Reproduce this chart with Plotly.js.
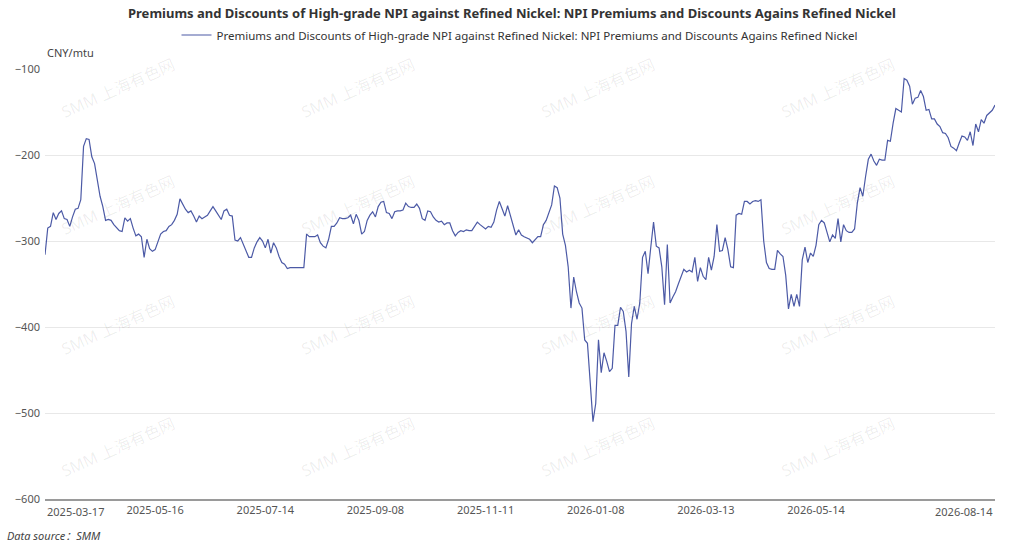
<!DOCTYPE html>
<html>
<head>
<meta charset="utf-8">
<script src="https://cdn.plot.ly/plotly-3.0.1.min.js"></script>
<style>
html,body{margin:0;padding:0;background:#fff;}
#chart{width:1024px;height:542px;}
</style>
</head>
<body>
<div id="chart"></div>
<script>
// ---- data ----
const seriesName = "Premiums and Discounts of High-grade NPI against Refined Nickel: NPI Premiums and Discounts Agains Refined Nickel";
const chartTitle = "Premiums and Discounts of High-grade NPI against Refined Nickel: NPI Premiums and Discounts Agains Refined Nickel";
const unitLabel = "CNY/mtu";
const sourceLabel = "Data source：SMM";
const watermarkText = "SMM 上海有色网";

const startDate = "2025-03-17";
const endDate = "2026-08-14";
const holidays = [
  "2025-04-04","2025-05-01","2025-05-02","2025-05-05","2025-06-02",
  "2025-10-01","2025-10-02","2025-10-03","2025-10-06","2025-10-07","2025-10-08",
  "2026-01-01","2026-01-02","2026-02-16","2026-02-17","2026-02-18","2026-02-19",
  "2026-02-20","2026-02-23","2026-04-06","2026-05-01","2026-05-04","2026-05-05","2026-06-19"
];

const values = [
  -316,-285,-283,-267,-275,-268,-265,-274,-275,-283,
  -272,-263,-262,-252,-190,-181,-182,-202,-210,-230,
  -248,-260,-276,-275,-276,-281,-285,-288,-289,-273,
  -277,-274,-285,-294,-292,-295,-319,-298,-309,-312,
  -310,-301,-292,-289,-288,-283,-281,-276,-269,-251,
  -258,-263,-267,-265,-271,-278,-271,-274,-272,-270,
  -265,-260,-265,-270,-275,-265,-263,-270,-271,-299,
  -300,-296,-304,-311,-319,-319,-308,-301,-296,-300,
  -308,-298,-314,-302,-308,-318,-325,-327,-332,-331,
  -331,-331,-331,-331,-331,-292,-295,-295,-295,-293,
  -302,-306,-308,-298,-283,-283,-279,-273,-274,-274,
  -273,-270,-280,-269,-276,-292,-289,-276,-270,-266,
  -272,-260,-255,-254,-267,-268,-274,-266,-265,-265,
  -264,-256,-260,-261,-261,-257,-262,-274,-276,-265,
  -266,-272,-276,-278,-277,-281,-279,-279,-288,-294,
  -290,-288,-289,-287,-288,-288,-283,-278,-281,-284,
  -286,-283,-284,-278,-264,-254,-263,-271,-259,-270,
  -281,-293,-287,-293,-295,-297,-298,-302,-298,-295,
  -295,-281,-276,-268,-258,-236,-238,-250,-292,-305,
  -330,-378,-342,-359,-372,-378,-415,-419,-462,-510,
  -489,-415,-453,-430,-440,-452,-448,-398,-398,-377,
  -382,-405,-458,-396,-376,-391,-372,-319,-312,-338,
  -307,-278,-306,-308,-330,-374,-304,-372,-365,-359,
  -350,-341,-333,-336,-334,-336,-319,-347,-331,-341,
  -345,-319,-334,-318,-281,-312,-311,-296,-310,-330,
  -331,-270,-268,-269,-254,-254,-257,-254,-253,-254,
  -252,-300,-325,-332,-333,-333,-311,-315,-318,-340,
  -379,-362,-376,-362,-376,-322,-307,-325,-314,-318,
  -305,-281,-276,-279,-290,-301,-293,-297,-274,-301,
  -281,-288,-290,-290,-286,-256,-238,-248,-225,-205,
  -199,-207,-212,-205,-206,-206,-183,-184,-163,-146,
  -148,-150,-111,-113,-120,-141,-134,-133,-125,-132,
  -148,-147,-158,-158,-164,-167,-174,-175,-180,-190,
  -192,-195,-186,-178,-179,-183,-173,-189,-164,-173,
  -159,-163,-154,-151,-148,-142
];

const tickLabels = ["2025-05-16","2025-07-14","2025-09-08","2025-11-11","2026-01-08","2026-03-13","2026-05-14"];
const edgeLabels = ["2025-03-17","2026-08-14"];
const yTicks = [-100,-200,-300,-400,-500,-600];

// trading-day calendar (categories)
function tradingDays(start, end, hol) {
  const out = [];
  const d = new Date(start + "T00:00:00Z");
  const e = new Date(end + "T00:00:00Z");
  while (d <= e) {
    const wd = d.getUTCDay();
    const s = d.toISOString().slice(0, 10);
    if (wd !== 0 && wd !== 6 && hol.indexOf(s) < 0) out.push(s);
    d.setUTCDate(d.getUTCDate() + 1);
  }
  return out;
}
const dates = tradingDays(startDate, endDate, holidays);

// ---- chart ----
const FONT = "'Noto Sans', 'Noto Sans CJK SC', sans-serif";
const L = 45, R = 29, T = 69, B = 43, W = 1024, H = 542;
const pw = W - L - R, ph = H - T - B;
const px = x => (x - L) / pw;
const py = y => (H - B - y) / ph;

const trace = {
  type: "scatter",
  mode: "lines",
  name: seriesName,
  x: dates,
  y: values,
  line: {color: "#4c5aa6", width: 1.2},
  hoverinfo: "x+y"
};

const annotations = [
  {text: unitLabel, xref: "paper", yref: "paper", x: 0, y: py(52), xanchor: "left", yanchor: "middle",
   showarrow: false, font: {size: 11, color: "#444", family: FONT}},
  {text: "<i>" + sourceLabel + "</i>", xref: "paper", yref: "paper", x: px(5), y: py(535), xanchor: "left", yanchor: "middle",
   showarrow: false, font: {size: 11, color: "#444", family: FONT}},
  {text: edgeLabels[0], xref: "x", yref: "paper", x: edgeLabels[0], y: 0, xanchor: "left", yanchor: "top", yshift: -3,
   showarrow: false, font: {size: 11, color: "#555", family: FONT}},
  {text: edgeLabels[1], xref: "x", yref: "paper", x: edgeLabels[1], y: 0, xanchor: "right", yanchor: "top", yshift: -3,
   showarrow: false, font: {size: 11, color: "#555", family: FONT}}
];

const wmX = [118, 358, 598, 838];
const wmY = [88, 205, 325, 447];
wmY.forEach(yy => wmX.forEach(xx => {
  annotations.push({text: watermarkText, xref: "paper", yref: "paper", x: px(xx), y: py(yy),
    xanchor: "center", yanchor: "middle", textangle: -24, showarrow: false,
    font: {size: 16, color: "rgba(0,0,0,0.07)", family: FONT}});
}));

const layout = {
  width: W, height: H,
  margin: {l: L, r: R, t: T, b: B, pad: 0},
  paper_bgcolor: "#fff",
  plot_bgcolor: "#fff",
  font: {family: FONT, color: "#333"},
  title: {text: "<b>" + chartTitle + "</b>", x: 0.5, xanchor: "center", xref: "container",
          y: 1 - 13 / H, yref: "container", yanchor: "middle",
          font: {size: 13, color: "#333", family: FONT}},
  showlegend: true,
  legend: {orientation: "h", x: 0.5, xanchor: "center", y: py(35), yanchor: "middle",
           font: {size: 11.5, color: "#333", family: FONT}, bgcolor: "rgba(0,0,0,0)"},
  xaxis: {
    type: "category",
    range: [0, dates.length - 1],
    tickmode: "array",
    tickvals: tickLabels,
    ticktext: tickLabels,
    showgrid: false,
    zeroline: false,
    showline: true,
    linecolor: "#9a9a9a",
    linewidth: 1.5,
    ticks: "",
    tickfont: {size: 11, color: "#555", family: FONT}
  },
  yaxis: {
    range: [-600, -100],
    tickmode: "array",
    tickvals: yTicks,
    showgrid: true,
    gridcolor: "#e8e8e8",
    gridwidth: 1,
    zeroline: false,
    showline: false,
    ticks: "",
    ticklabelstandoff: 4,
    tickfont: {size: 11, color: "#555", family: FONT}
  },
  annotations: annotations
};

Plotly.newPlot("chart", [trace], layout, {displayModeBar: false, staticPlot: true});
</script>
</body>
</html>
